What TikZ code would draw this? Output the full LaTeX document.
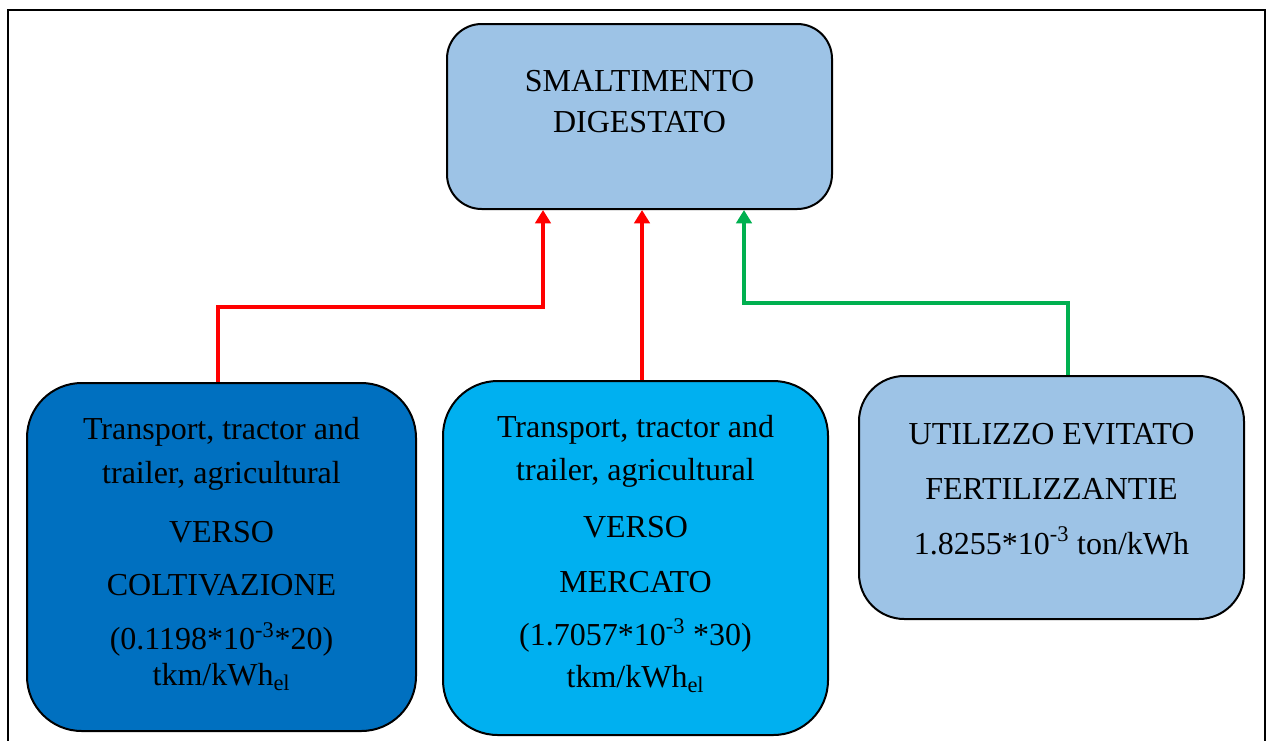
\documentclass[tikz,border=0pt]{standalone}
\usepackage{fontspec}
\setmainfont{Liberation Serif}
\usetikzlibrary{arrows.meta}
\definecolor{lightblue}{HTML}{9DC3E6}
\definecolor{darkblue}{HTML}{0070C0}
\definecolor{skyblue}{HTML}{00B0F0}
\definecolor{arrred}{HTML}{FF0000}
\definecolor{arrgreen}{HTML}{00B050}
\begin{document}
\begin{tikzpicture}[x=0.75pt,y=-0.75pt,
  box/.style={draw=black, line width=1.5pt, inner sep=0pt},
  txt/.style={align=center, font=\fontsize{24}{30}\selectfont, inner sep=0pt},
  conn/.style={line width=2.6pt, -{Triangle[width=11.5pt,length=10pt]}}
]
\useasboundingbox (0,0) rectangle (1268,740);
\draw[line width=1.5pt] (8,745) -- (8,10) -- (1265,10) -- (1265,745);

\node[box, fill=lightblue, rounded corners=26pt, minimum width=288.75pt, minimum height=138.75pt] (top) at (639.5,116.5) {};
\node[txt] (toptext) at (639.5,101.5) {SMALTIMENTO\\[1pt]DIGESTATO};

\node[box, fill=darkblue, rounded corners=41pt, minimum width=291.75pt, minimum height=261pt] (left) at (221.5,557) {};
\node[txt] (lefttext) at (221.5,554) {Transport, tractor and\\[3pt]trailer, agricultural\\[14pt]VERSO\\[10pt]COLTIVAZIONE\\[10pt](0.1198*10\textsuperscript{-3}*20)\\[-3pt]tkm/kWh\textsubscript{el}};

\node[box, fill=skyblue, rounded corners=41pt, minimum width=288.75pt, minimum height=265.5pt] (mid) at (635.5,558) {};
\node[txt] (midtext) at (635.5,554) {Transport, tractor and\\[2pt]trailer, agricultural\\[13pt]VERSO\\[11pt]MERCATO\\[10pt](1.7057*10\textsuperscript{-3} *30)\\[1pt]tkm/kWh\textsubscript{el}};

\node[box, fill=lightblue, rounded corners=34pt, minimum width=288.75pt, minimum height=182.25pt] (right) at (1051.5,497.5) {};
\node[txt] (righttext) at (1051.5,489) {UTILIZZO EVITATO\\[11pt]FERTILIZZANTIE\\[11pt]1.8255*10\textsuperscript{-3} ton/kWh};

\coordinate (lc) at (543,307);
\coordinate (gc) at (744,303);
\draw[conn, arrred] ([xshift=-2.6pt]left.north) |- (lc) -- (lc |- top.south);
\draw[conn, arrred] ([xshift=1.9pt]top.south |- mid.north) -- ([xshift=1.9pt]top.south);
\draw[conn, arrgreen] ([xshift=12.4pt]right.north) |- (gc) -- (gc |- top.south);
\end{tikzpicture}
\end{document}
